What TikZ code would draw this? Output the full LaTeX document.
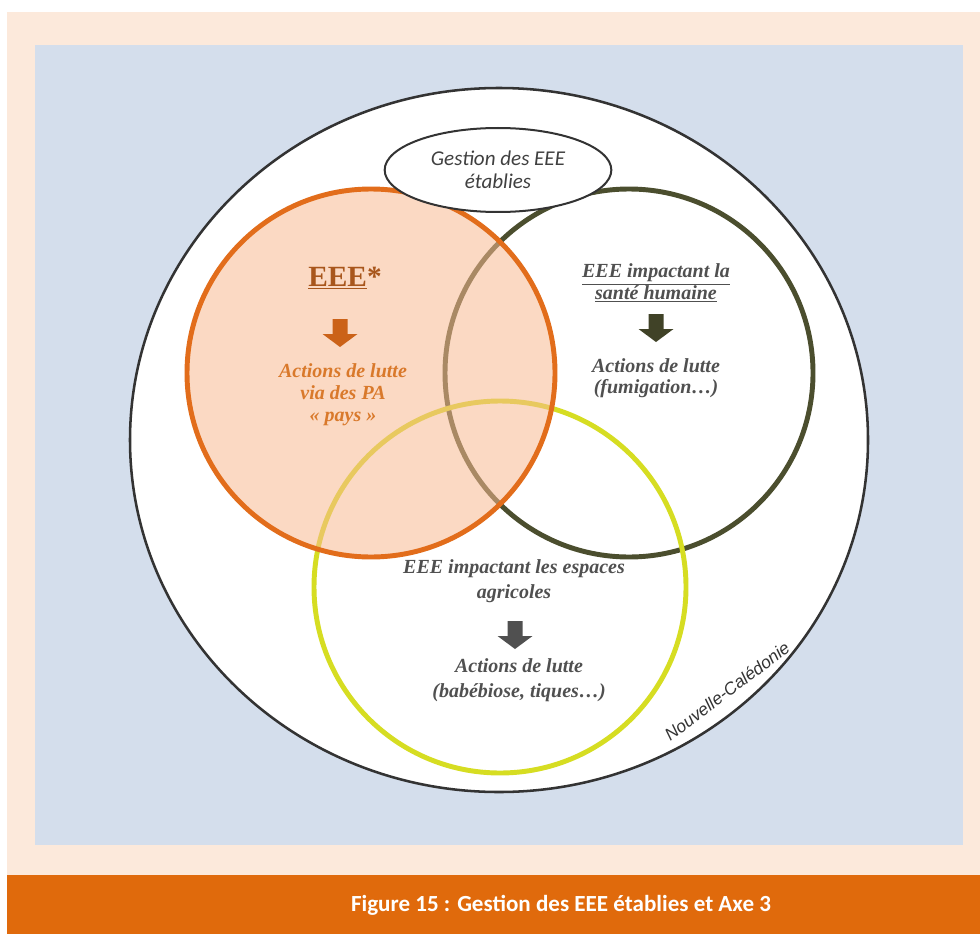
\documentclass[tikz,border=0pt]{standalone}
\usepackage{fontspec}
\setmainfont{Liberation Serif}
\newfontfamily\calibrifont{Carlito}
\newfontfamily\arialfont{Liberation Sans}
\usetikzlibrary{positioning,shapes.geometric}

\definecolor{peachbg}{HTML}{FCE9DB}
\definecolor{bluebg}{HTML}{D4DEEC}
\definecolor{bandorange}{HTML}{E06A0C}
\definecolor{ringorange}{HTML}{E26D1B}
\definecolor{ringolive}{HTML}{4B4E2E}
\definecolor{ringyellow}{HTML}{D6DD22}
\definecolor{peachfill}{HTML}{F8BA92}
\definecolor{textbrown}{HTML}{A8561C}
\definecolor{textorange}{HTML}{D9792B}
\definecolor{textgray}{HTML}{505050}

\tikzset{pics/downblock/.style={code={%
  \fill[#1] (-7.5,-14) -- (7.5,-14) -- (7.5,1) -- (17.5,1) -- (0,14)
            -- (-17.5,1) -- (-7.5,1) -- cycle;}}}

\begin{document}
\begin{tikzpicture}[x=0.75pt,y=-0.75pt]
  \useasboundingbox (0,0) rectangle (980,934);
  % page background and caption band
  \fill[white] (0,0) rectangle (980,934);
  \fill[peachbg] (7,12) rectangle (980,875);
  \fill[bluebg] (35,45) rectangle (963,845);
  \fill[bandorange] (7,875) rectangle (980,934);
  \node[text=white, font=\calibrifont\bfseries\fontsize{17.3}{20}\selectfont]
    (caption) at (561,905) {Figure 15 : Gestion des EEE établies et Axe 3};

  % territory
  \draw[fill=white, draw=black!80, line width=1.9pt] (499,440) ellipse (369 and 352);
  \node[rotate=37, text=black!80, font=\arialfont\itshape\fontsize{13}{15}\selectfont]
    (territory) at (727,691) {Nouvelle-Calédonie};

  % the three sets
  \begin{scope}[ring style/.style={line width=3.7pt}]
    \draw[ring style, ringolive] (629,373) circle (184);
    \draw[ring style, ringyellow] (500,587) circle (186);
    \fill[peachfill, fill opacity=0.55] (371,373) circle (184);
    \draw[ring style, ringorange] (371,373) circle (184);
  \end{scope}

  \node[draw=black!80, line width=1.5pt, fill=white, ellipse, minimum width=170pt,
        minimum height=63pt, inner sep=0pt, align=center,
        font=\calibrifont\itshape\fontsize{15.8}{17.5}\selectfont, text=black!75]
    (gestion) at (498,170) {Gestion des EEE\\établies};

  \begin{scope}[set text/.style={align=center, inner sep=0pt,
                                 font=\bfseries\itshape\fontsize{15}{#1}\selectfont}]
    % EEE*
    \node[text=textbrown, font=\bfseries\fontsize{22}{26}\selectfont]
      (eee) at (345,278) {\underline{EEE}*};
    \pic at (340,333) {downblock=ringorange!90!black};
    \node[set text=16.5, text=textorange] (paysaction) at (343,395)
      {Actions de lutte\\via des PA\\« pays »};
    % santé humaine
    \node[set text=16, text=textgray] (sante) at (656,283)
      {\underline{EEE impactant la}\\\underline{santé humaine}};
    \pic at (656,328) {downblock=ringolive!85!black};
    \node[set text=16, text=textgray] (santeaction) at (656,378)
      {Actions de lutte\\(fumigation…)};
    % espaces agricoles
    \node[set text=18.5, text=textgray] (agri) at (514,581)
      {EEE impactant les espaces\\agricoles};
    \pic at (515,635) {downblock=textgray};
    \node[set text=18.5, text=textgray] (agriaction) at (519,680)
      {Actions de lutte\\(babébiose, tiques…)};
  \end{scope}
\end{tikzpicture}
\end{document}
